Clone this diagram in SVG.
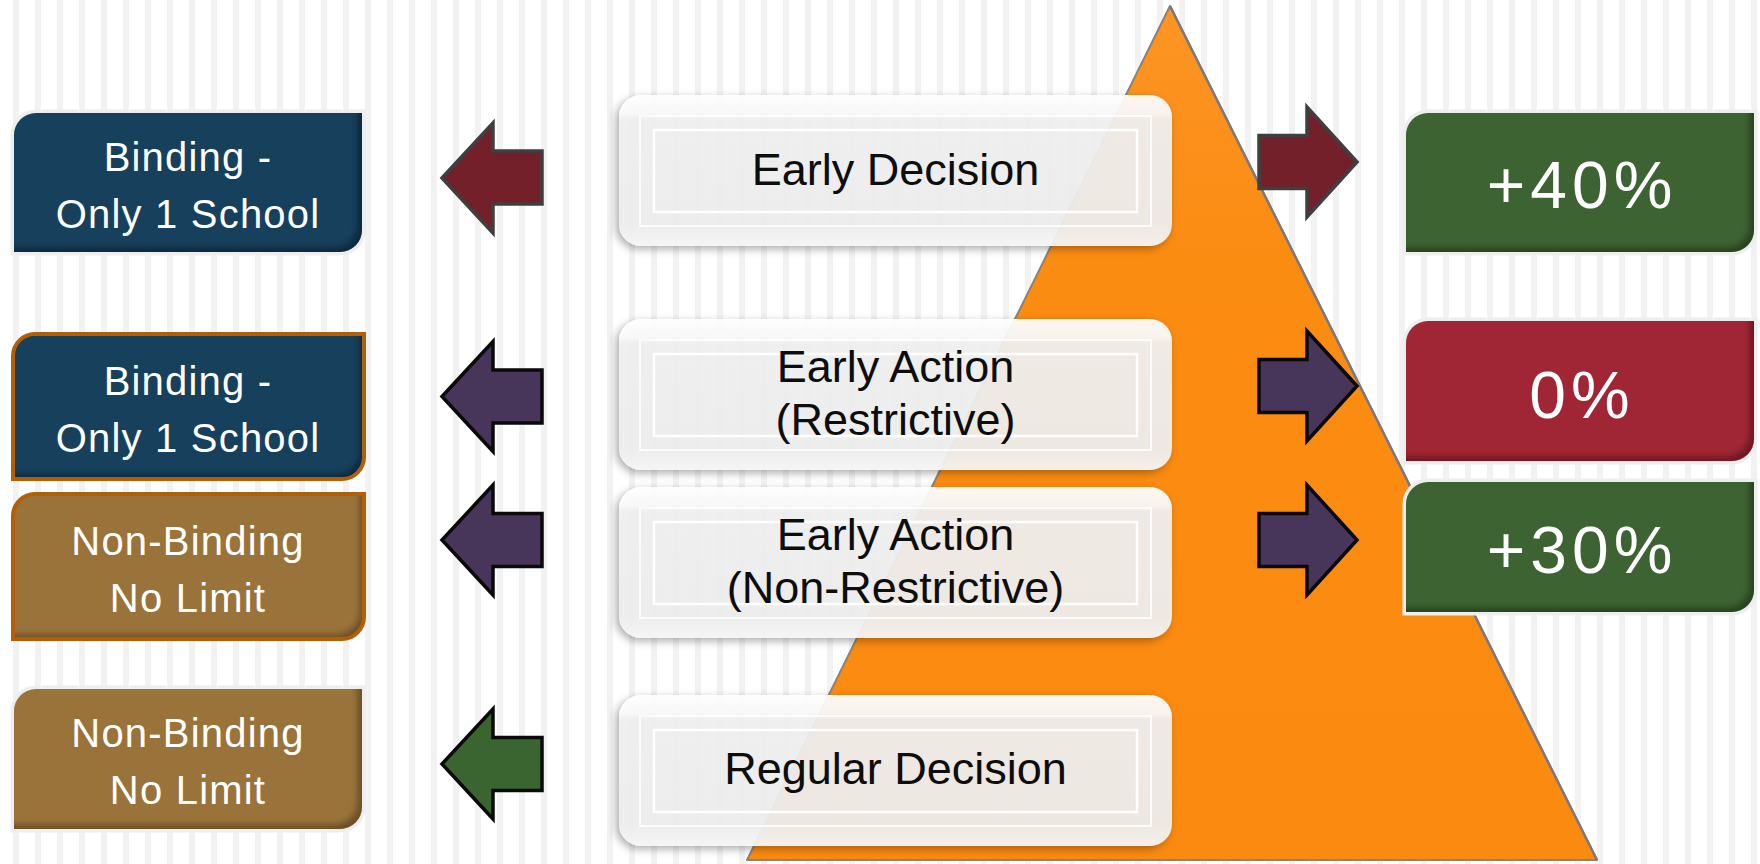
<svg xmlns="http://www.w3.org/2000/svg" width="1760" height="864" viewBox="0 0 1760 864">
  <style>
    .lt { font-family: "Liberation Sans", Arial, sans-serif; font-size: 40px; fill: #ffffff; text-anchor: middle; letter-spacing: 1.2px; }
    .ct { font-family: "Liberation Sans", Arial, sans-serif; font-size: 45px; fill: #0d0d0d; text-anchor: middle; }
    .rt { font-family: "Liberation Sans", Arial, sans-serif; font-size: 66px; fill: #ffffff; text-anchor: middle; letter-spacing: 5px; }
    .rim { fill: none; stroke: #eeeeee; stroke-width: 7; }
    .obrd { fill: none; stroke: #b35f0a; stroke-width: 4; }
    .blue { fill: #17415b; }
    .brown { fill: #9a733a; }
    .green { fill: #3c6332; }
    .red { fill: #a02835; }
    .cbox { fill: url(#cgrad); fill-opacity: 0.93; filter: url(#drop); }
    .pan { fill: none; stroke: #fbfbfb; stroke-width: 2; }
    .pan2 { fill: none; stroke: #ffffff; stroke-width: 2.5; }
    .arR { fill: #73202a; stroke: #3f3f3f; stroke-width: 3.5; }
    .arP { fill: #47355a; stroke: #0a0a0a; stroke-width: 3.5; }
    .arG { fill: #3a6430; stroke: #0a0a0a; stroke-width: 3.5; }
  </style>
  <defs>
    <pattern id="stripes" x="13" y="0" width="22" height="864" patternUnits="userSpaceOnUse">
      <rect x="0" y="0" width="6" height="864" fill="#f2f2f2"/>
    </pattern>
    <linearGradient id="cgrad" x1="0" y1="0" x2="0" y2="1">
      <stop offset="0" stop-color="#ffffff"/>
      <stop offset="0.12" stop-color="#fbfbfb"/>
      <stop offset="0.16" stop-color="#f1f1f1"/>
      <stop offset="0.85" stop-color="#efefef"/>
      <stop offset="1" stop-color="#f7f7f7"/>
    </linearGradient>
    <linearGradient id="tgrad" x1="0" y1="0" x2="0" y2="1">
      <stop offset="0" stop-color="#fd9424"/>
      <stop offset="0.3" stop-color="#fb8c12"/>
      <stop offset="1" stop-color="#fb8a10"/>
    </linearGradient>
    <filter id="drop" x="-10%" y="-20%" width="120%" height="140%">
      <feDropShadow dx="-3" dy="3" stdDeviation="4" flood-color="#000" flood-opacity="0.35"/>
    </filter>
    <filter id="inner" x="-5%" y="-8%" width="110%" height="116%">
      <feComponentTransfer in="SourceAlpha" result="inv"><feFuncA type="table" tableValues="1 0"/></feComponentTransfer>
      <feOffset in="inv" dx="-5" dy="-5" result="off"/>
      <feGaussianBlur in="off" stdDeviation="3" result="blur"/>
      <feComposite in="blur" in2="SourceAlpha" operator="in" result="sh"/>
      <feColorMatrix in="sh" type="matrix" values="0 0 0 0 0  0 0 0 0 0  0 0 0 0 0  0 0 0 0.55 0" result="shd"/>
      <feMerge><feMergeNode in="SourceGraphic"/><feMergeNode in="shd"/></feMerge>
    </filter>
  </defs>

  <rect width="1760" height="864" fill="#ffffff"/>
  <rect width="1760" height="864" fill="url(#stripes)"/>

  <g id="pyramid">
    <polygon points="1170,6 747,860 1597,860" fill="url(#tgrad)" stroke="#8c8278" stroke-width="2" stroke-linejoin="round"/>
    <line x1="1170" y1="6" x2="1597" y2="860" stroke="#7a7a7a" stroke-width="2.5"/>
  </g>

  <g id="connectors">
    <path class="arR" d="M442,178 L493,123 L493,151 L542,151 L542,204 L493,204 L493,233 Z"/>
    <path class="arP" d="M442,396.5 L493,341.5 L493,370 L542,370 L542,423 L493,423 L493,451.5 Z"/>
    <path class="arP" d="M442,540 L493,485 L493,513.5 L542,513.5 L542,566.5 L493,566.5 L493,595 Z"/>
    <path class="arG" d="M442,764 L493,709 L493,737.5 L542,737.5 L542,790.5 L493,790.5 L493,819 Z"/>
    <path class="arR" d="M1357,162 L1307,107 L1307,135.5 L1259,135.5 L1259,188.5 L1307,188.5 L1307,217 Z"/>
    <path class="arP" d="M1357,386 L1307,331 L1307,359.5 L1259,359.5 L1259,412.5 L1307,412.5 L1307,441 Z"/>
    <path class="arP" d="M1357,540 L1307,485 L1307,513.5 L1259,513.5 L1259,566.5 L1307,566.5 L1307,595 Z"/>
  </g>

  <g id="ed">
    <rect class="cbox" x="619" y="95" width="553" height="151" rx="22"/>
    <rect class="pan" x="640" y="116" width="511" height="110"/>
    <rect class="pan2" x="654" y="130" width="483" height="82"/>
    <text class="ct" x="895.5" y="185">Early Decision</text>
  </g>
  <g id="ea-r">
    <rect class="cbox" x="619" y="319" width="553" height="151" rx="22"/>
    <rect class="pan" x="640" y="340" width="511" height="110"/>
    <rect class="pan2" x="654" y="354" width="483" height="82"/>
    <text class="ct" x="895.5" y="382">Early Action</text>
    <text class="ct" x="895.5" y="435">(Restrictive)</text>
  </g>
  <g id="ea-n">
    <rect class="cbox" x="619" y="487" width="553" height="151" rx="22"/>
    <rect class="pan" x="640" y="508" width="511" height="110"/>
    <rect class="pan2" x="654" y="522" width="483" height="82"/>
    <text class="ct" x="895.5" y="550">Early Action</text>
    <text class="ct" x="895.5" y="603">(Non-Restrictive)</text>
  </g>
  <g id="rd">
    <rect class="cbox" x="619" y="695" width="553" height="151" rx="22"/>
    <rect class="pan" x="640" y="716" width="511" height="110"/>
    <rect class="pan2" x="654" y="730" width="483" height="82"/>
    <text class="ct" x="895.5" y="784">Regular Decision</text>
  </g>

  <g id="l1">
    <path class="rim" d="M36,113 H362 V230 A22,22 0 0 1 340,252 H14 V135 A22,22 0 0 1 36,113 Z"/>
    <path class="blue" filter="url(#inner)" d="M36,113 H362 V230 A22,22 0 0 1 340,252 H14 V135 A22,22 0 0 1 36,113 Z"/>
    <text class="lt" x="188" y="171">Binding -</text>
    <text class="lt" x="188" y="228">Only 1 School</text>
  </g>
  <g id="l2">
    <path class="blue" filter="url(#inner)" d="M36,334 H364 V457 A22,22 0 0 1 342,479 H13 V356 A22,22 0 0 1 36,334 Z"/>
    <path class="obrd" d="M36,334 H364 V457 A22,22 0 0 1 342,479 H13 V356 A22,22 0 0 1 36,334 Z"/>
    <text class="lt" x="188" y="395">Binding -</text>
    <text class="lt" x="188" y="452">Only 1 School</text>
  </g>
  <g id="l3">
    <path class="brown" filter="url(#inner)" d="M36,494 H364 V617 A22,22 0 0 1 342,639 H13 V516 A22,22 0 0 1 36,494 Z"/>
    <path class="obrd" d="M36,494 H364 V617 A22,22 0 0 1 342,639 H13 V516 A22,22 0 0 1 36,494 Z"/>
    <text class="lt" x="188" y="555">Non-Binding</text>
    <text class="lt" x="188" y="612">No Limit</text>
  </g>
  <g id="l4">
    <path class="rim" d="M36,689 H362 V807 A22,22 0 0 1 340,829 H14 V711 A22,22 0 0 1 36,689 Z"/>
    <path class="brown" filter="url(#inner)" d="M36,689 H362 V807 A22,22 0 0 1 340,829 H14 V711 A22,22 0 0 1 36,689 Z"/>
    <text class="lt" x="188" y="747">Non-Binding</text>
    <text class="lt" x="188" y="804">No Limit</text>
  </g>

  <g id="r1">
    <path class="rim" d="M1428,113 H1754 V230 A22,22 0 0 1 1732,252 H1406 V135 A22,22 0 0 1 1428,113 Z"/>
    <path class="green" filter="url(#inner)" d="M1428,113 H1754 V230 A22,22 0 0 1 1732,252 H1406 V135 A22,22 0 0 1 1428,113 Z"/>
    <text class="rt" x="1582" y="208">+40%</text>
  </g>
  <g id="r2">
    <path class="rim" d="M1428,321 H1754 V439 A22,22 0 0 1 1732,461 H1406 V343 A22,22 0 0 1 1428,321 Z"/>
    <path class="red" filter="url(#inner)" d="M1428,321 H1754 V439 A22,22 0 0 1 1732,461 H1406 V343 A22,22 0 0 1 1428,321 Z"/>
    <text class="rt" x="1582" y="418">0%</text>
  </g>
  <g id="r3">
    <path class="rim" d="M1428,482 H1754 V590 A22,22 0 0 1 1732,612 H1406 V504 A22,22 0 0 1 1428,482 Z"/>
    <path class="green" filter="url(#inner)" d="M1428,482 H1754 V590 A22,22 0 0 1 1732,612 H1406 V504 A22,22 0 0 1 1428,482 Z"/>
    <text class="rt" x="1582" y="573">+30%</text>
  </g>
</svg>
